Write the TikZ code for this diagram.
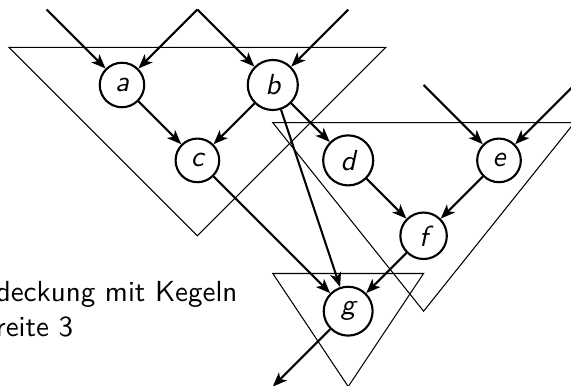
\documentclass[tikz,border=0pt]{standalone}
\usetikzlibrary{arrows.meta}
\begin{document}
\begin{tikzpicture}[
    font=\fontsize{10.95}{13.2}\selectfont\sffamily,
    vertex/.style={draw, circle, thick, font=\fontsize{10.95}{13.2}\selectfont\sffamily\itshape},
    edge/.style={thick, -{Stealth[length=1.9mm,width=1.5mm,inset=0.5mm]}},
    cone/.style={thin}
  ]
    \useasboundingbox (-1.618,1.127) rectangle (5.955,-3.992);
    \clip (-1.618,1.127) rectangle (5.955,-3.992);
    % cones
    \draw[cone] (-1.5,0.5) -- (3.5,0.5) -- (1,-2) -- cycle;
    \draw[cone] (2,-0.5) -- (6,-0.5) -- (4,-3) -- cycle;
    \draw[cone] (2,-2.5) -- (4,-2.5) -- (3,-4) -- cycle;
    % vertices
    \node[vertex] (a) at (0,0) {a};
    \node[vertex] (b) at (2,0) {b};
    \node[vertex] (c) at (1,-1) {c};
    \node[vertex] (d) at (3,-1) {d};
    \node[vertex] (e) at (5,-1) {e};
    \node[vertex] (f) at (4,-2) {f};
    \node[vertex] (g) at (3,-3) {g};
    % free ends
    \coordinate (in1) at (-1,1);
    \coordinate (in2) at (1,1);
    \coordinate (in3) at (3,1);
    \coordinate (in4) at (4,0);
    \coordinate (in5) at (6,0);
    \coordinate (out) at (2,-4);
    \foreach \from/\to in {in1/a, in2/a, in2/b, in3/b, in4/e, in5/e,
                           a/c, b/c, b/d, b/g, c/g, d/f, e/f, f/g, g/out}
      \draw[edge] (\from) -- (\to);

    \node[anchor=base west, align=left, inner sep=0] (caption) at (-1.68,-3.34)
      {deckung mit Kegeln\\reite 3};
\end{tikzpicture}
\end{document}
